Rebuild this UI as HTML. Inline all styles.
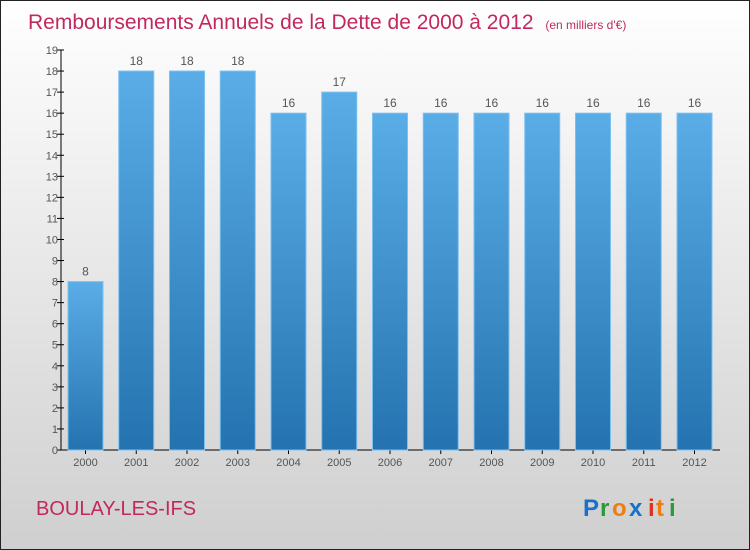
<!DOCTYPE html>
<html><head><meta charset="utf-8"><style>
body{margin:0;width:750px;height:550px;overflow:hidden}
svg{display:block;font-family:"Liberation Sans",sans-serif}
</style></head><body>
<svg id="c" width="750" height="550">
<defs>
<linearGradient id="bg" x1="0" y1="0" x2="0" y2="1"><stop offset="0" stop-color="#ffffff"/><stop offset="1" stop-color="#cfcfcf"/></linearGradient>
<linearGradient id="bar" x1="0" y1="0" x2="0" y2="1"><stop offset="0" stop-color="#5aade6"/><stop offset="1" stop-color="#2473b0"/></linearGradient>
</defs>
<rect x="0.5" y="0.5" width="749" height="549" fill="url(#bg)" stroke="#222"/>
<text x="28" y="29" font-size="21" fill="#c2285f">Remboursements Annuels de la Dette de 2000 à 2012 <tspan font-size="12" dx="6">(en milliers d'€)</tspan></text>
<text x="36" y="515" font-size="20" fill="#c2285f">BOULAY-LES-IFS</text>
<g font-size="24" font-weight="bold">
<text x="583" y="516" fill="#1a72c8">P</text><text x="600" y="516" fill="#2a9a3a">r</text><text x="612" y="516" fill="#f07d10">o</text><text x="629" y="516" fill="#1a72c8">x</text><text x="648" y="516" fill="#e03020">i</text><text x="656" y="516" fill="#f07d10">t</text><text x="669" y="516" fill="#2a9a3a">i</text>
</g>
<g id="ax"></g><g id="bars"></g>
</svg>
<script>
const categories=["2000","2001","2002","2003","2004","2005","2006","2007","2008","2009","2010","2011","2012"];
const values=[8,18,18,18,16,17,16,16,16,16,16,16,16];
const ticks=[0,1,2,3,4,5,6,7,8,9,10,11,12,13,14,15,16,17,18,19];
const NS="http://www.w3.org/2000/svg";
const y=v=>450-v*(400/19);
const x=i=>68+i*50.75;
function mk(t,a,p){const e=document.createElementNS(NS,t);for(const k in a)e.setAttribute(k,a[k]);p.appendChild(e);return e;}
const ax=document.getElementById('ax'),bg=document.getElementById('bars');
const yl=mk('line',{x1:61,y1:y(19),x2:61,y2:450,stroke:'#000'},ax);


const xl=mk('line',{x1:61,y1:450,x2:720,y2:450,stroke:'#000'},ax);


ticks.forEach(t=>{
 mk('line',{x1:57,x2:64,y1:y(t),y2:y(t),stroke:'#000'},ax);
 const tx=mk('text',{x:58,y:y(t)+4,'font-size':11,fill:'#555','text-anchor':'end'},ax);tx.textContent=t;
 
 
});
categories.forEach((c,i)=>{
 const v=values[i];
 const r=mk('rect',{x:x(i),y:y(v),width:35,height:450-y(v),fill:'url(#bar)',stroke:'#7cc0f0','stroke-width':1},bg);
 
 
 const l=mk('text',{x:x(i)+17.5,y:y(v)-6,'font-size':12,fill:'#555','text-anchor':'middle'},bg);l.textContent=v;
 
 
 mk('line',{x1:x(i)+17.5,x2:x(i)+17.5,y1:450,y2:454,stroke:'#000'},ax);
 const cl=mk('text',{x:x(i)+17.5,y:466,'font-size':11,fill:'#555','text-anchor':'middle'},ax);cl.textContent=c;
 
 
});
</script>
</body></html>
